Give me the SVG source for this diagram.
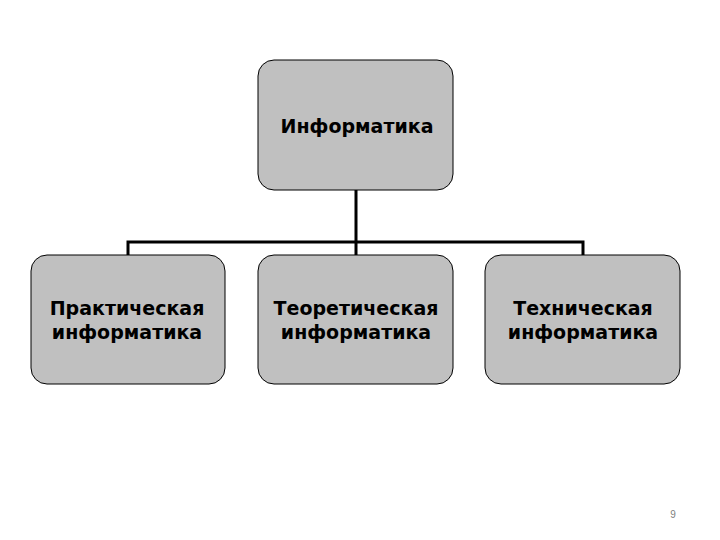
<svg xmlns="http://www.w3.org/2000/svg" width="720" height="540" viewBox="0 0 720 540">
<style>
.box{fill:#c0c0c0;stroke:#000;stroke-width:1}
.lbl{font-family:"DejaVu Sans",Verdana,sans-serif;font-weight:bold;font-size:19px;fill:#000;text-anchor:middle}
.conn{stroke:#000;stroke-width:3;fill:none}
</style>
<rect width="720" height="540" fill="#fff"/>
<g id="connectors">
<path class="conn" d="M356 190V242M128 255V242H583V255M356 242V255"/>
</g>
<g id="n0">
<rect class="box" x="258" y="60" width="195" height="130" rx="16"/>
<text class="lbl" x="357" y="133">Информатика</text>
</g>
<g id="n1">
<rect class="box" x="31" y="255" width="194" height="129" rx="16"/>
<text class="lbl" x="127" y="315">Практическая</text>
<text class="lbl" x="127" y="339">информатика</text>
</g>
<g id="n2">
<rect class="box" x="258" y="255" width="195" height="129" rx="16"/>
<text class="lbl" x="356" y="315">Теоретическая</text>
<text class="lbl" x="356" y="339">информатика</text>
</g>
<g id="n3">
<rect class="box" x="485" y="255" width="195" height="129" rx="16"/>
<text class="lbl" x="583" y="315">Техническая</text>
<text class="lbl" x="583" y="339">информатика</text>
</g>
<text x="673" y="518" font-family="Liberation Sans,Arial,sans-serif" font-size="10" fill="#808080" text-anchor="middle">9</text>
</svg>
